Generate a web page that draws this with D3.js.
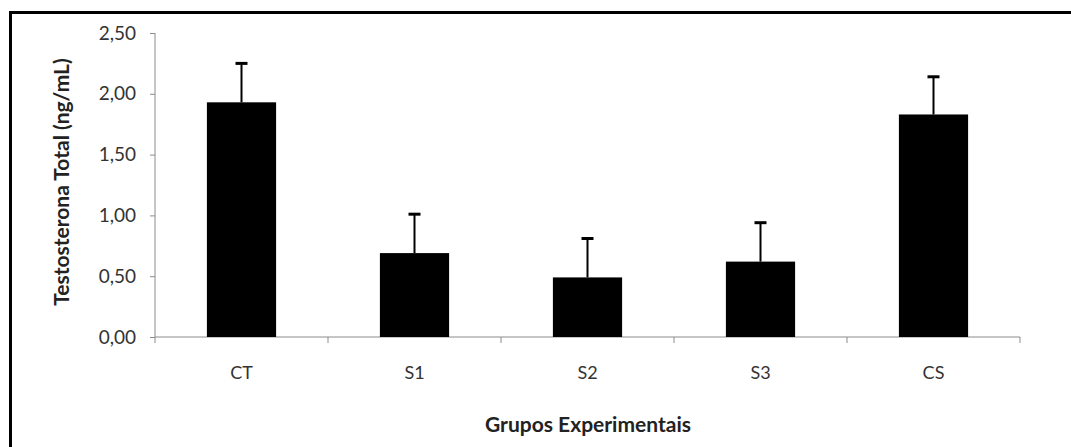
<!DOCTYPE html>
<html><head><meta charset="utf-8">
<script src="https://cdn.jsdelivr.net/npm/d3@7"></script>
<style>body{margin:0;background:#fff}</style>
</head><body>
<svg id="c" width="1071" height="447"></svg>
<script>
const categories = ["CT","S1","S2","S3","CS"];
const means = [1.93, 0.69, 0.49, 0.62, 1.83];
const errors = [0.32, 0.32, 0.32, 0.32, 0.31];
const yTicks = [0, 0.5, 1.0, 1.5, 2.0, 2.5];
const yTitle = "Testosterona Total (ng/mL)";
const xTitle = "Grupos Experimentais";

(function(){
const svg = d3.select("#c");
const font = "Lato, 'Open Sans', sans-serif";
// frame
svg.append("path").attr("d","M10.5,460 L10.5,12.5 L1080,12.5").attr("fill","none").attr("stroke","#000").attr("stroke-width",3);

const pl = 155, pr = 1020, pt = 33, pb = 337;
const x = d3.scaleBand().domain(categories).range([pl, pr]).padding(0);
const y = d3.scaleLinear().domain([0, 2.5]).range([pb, pt]);
const axisColor = "#8c8c8c";
const fmt = d => d3.format(".2f")(d).replace(".", ",");

// y axis
const ya = svg.append("g").attr("transform", `translate(${pl},0)`)
  .call(d3.axisLeft(y).tickValues(yTicks).tickFormat(fmt).tickSize(5).tickPadding(14));
ya.select(".domain").attr("stroke", axisColor).attr("d", `M0,${pt}V${pb}`);
ya.selectAll(".tick line").attr("stroke", axisColor);
ya.selectAll(".tick text").attr("font-family", font).attr("font-size", 19).attr("fill", "#333");

// x axis
const xa = svg.append("g").attr("transform", `translate(0,${pb})`)
  .call(d3.axisBottom(x).tickSize(0).tickPadding(29));
xa.select(".domain").attr("stroke", axisColor).attr("d", `M${pl},0H${pr}`);
xa.selectAll(".tick text").attr("font-family", font).attr("font-size", 18).attr("fill", "#333");
const edges = categories.map(c => x(c)).concat([pr]);
svg.append("g").selectAll("line").data(edges).join("line")
  .attr("x1", d => d).attr("x2", d => d).attr("y1", pb).attr("y2", pb + 6)
  .attr("stroke", axisColor);

// bars
const bw = x.bandwidth() * 0.4;
const data = categories.map((c, i) => ({c, m: means[i], e: errors[i]}));
svg.append("g").selectAll("rect").data(data).join("rect")
  .attr("x", d => x(d.c) + x.bandwidth()/2 - bw/2)
  .attr("width", bw)
  .attr("y", d => y(d.m))
  .attr("height", d => y(0) - y(d.m))
  .attr("fill", "#000");

// error bars
const eg = svg.append("g").attr("stroke", "#000").attr("stroke-width", 2);
eg.selectAll("line.v").data(data).join("line").attr("class","v")
  .attr("x1", d => x(d.c) + x.bandwidth()/2).attr("x2", d => x(d.c) + x.bandwidth()/2)
  .attr("y1", d => y(d.m)).attr("y2", d => y(d.m + d.e));
eg.selectAll("line.h").data(data).join("line").attr("class","h")
  .attr("stroke-width", 3)
  .attr("x1", d => x(d.c) + x.bandwidth()/2 - 6).attr("x2", d => x(d.c) + x.bandwidth()/2 + 6)
  .attr("y1", d => y(d.m + d.e)).attr("y2", d => y(d.m + d.e));

// titles
svg.append("text").attr("transform", `translate(69,182) rotate(-90)`)
  .attr("text-anchor","middle").attr("font-family", font).attr("font-weight","bold")
  .attr("font-size", 21).attr("fill","#222").text(yTitle);
svg.append("text").attr("x", 588).attr("y", 432)
  .attr("text-anchor","middle").attr("font-family", font).attr("font-weight","bold")
  .attr("font-size", 21).attr("fill","#222").text(xTitle);
})();
</script>
</body></html>
